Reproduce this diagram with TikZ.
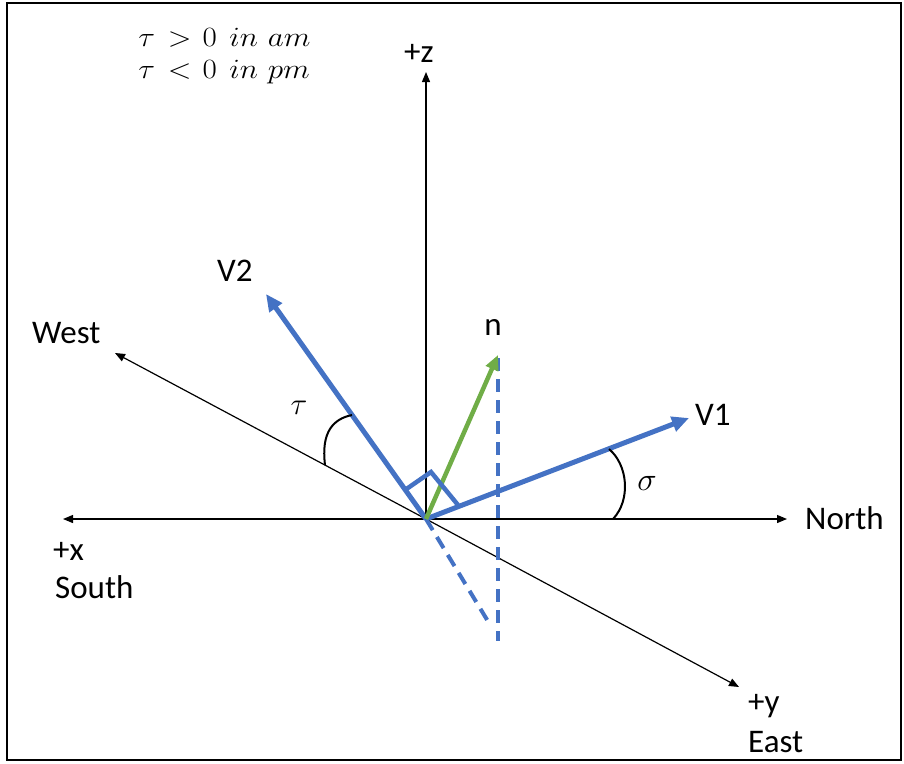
\documentclass[tikz,border=0pt]{standalone}
\usepackage[no-math]{fontspec}
\setmainfont{Carlito}
\usetikzlibrary{arrows.meta}
\definecolor{vblue}{RGB}{68,114,196}
\definecolor{vgreen}{RGB}{112,173,71}
\begin{document}
\begin{tikzpicture}[x=1pt,y=-1pt,
  axis/.style={line width=1.2pt,-{Triangle[length=10pt,width=8pt]}},
  vec/.style={vblue,line width=5pt,-{Triangle[length=17pt,width=15pt]}},
  nvec/.style={vgreen,line width=4.5pt,-{Triangle[length=15pt,width=13pt]}},
  dsh/.style={vblue,line width=4pt,dash pattern=on 13pt off 8pt},
  marker/.style={vblue,line width=4.5pt,line join=miter},
  anglearc/.style={line width=2pt},
  lbl/.style={font=\fontsize{33}{38}\selectfont,inner sep=0pt,anchor=base west},
  mathlbl/.style={font=\Huge,inner sep=0pt,anchor=base west,xscale=1.25,yscale=1.12},
  greek/.style={font=\Huge,inner sep=0pt,scale=1.25}]
\useasboundingbox (0,0) rectangle (904,763);
\draw[line width=2pt] (7,3) rectangle (901,760);
% points
\coordinate (O) at (426,519);
\coordinate (Zt) at (426,72);
\coordinate (Nt) at (787,519);
\coordinate (St) at (63,519);
\coordinate (Wt) at (115,353);
\coordinate (Et) at (739,687);
\coordinate (V2t) at (266,294);
\coordinate (V1t) at (689,418);
\coordinate (nt) at (498,355);
\coordinate (dvTop) at (498,358);
\coordinate (dvBot) at (498,641);
\coordinate (ddEnd) at (489,623);
\coordinate (m1) at (405,490);
\coordinate (m2) at (431,472);
\coordinate (m3) at (458,505);
\coordinate (ta) at (325,465);
\coordinate (tb) at (352,415);
\coordinate (sa) at (613,519);
\coordinate (sb) at (609,449);
% axes
\draw[axis] (O) -- (Zt);
\draw[axis] (O) -- (Nt);
\draw[axis] (O) -- (St);
\draw[axis] (O) -- (Wt);
\draw[axis] (O) -- (Et);
% dashed projections
\draw[dsh] (dvTop) -- (dvBot);
\draw[dsh] (O) -- (ddEnd);
% vectors
\draw[vec] (O) -- (V2t);
\draw[vec] (O) -- (V1t);
\draw[nvec] (O) -- (nt);
\draw[marker] (m1) -- (m2) -- (m3);
% angle arcs
\draw[anglearc] (ta) .. controls (321,432) and (333,419) .. (tb);
\draw[anglearc] (sa) .. controls (631,500) and (628,465) .. (sb);
% labels
\node[lbl] (zl) at (404,62) {+z};
\node[lbl] (v2l) at (217,281) {V2};
\node[lbl] (v1l) at (695,425) {V1};
\node[lbl,anchor=base] (nl) at (493,335) {n};
\node[lbl] (westl) at (32,343) {West};
\node[lbl] (northl) at (805,529) {North};
\node[lbl] (xl) at (53,560) {+x};
\node[lbl] (southl) at (55,598) {South};
\node[lbl] (yl) at (748,712) {+y};
\node[lbl] (eastl) at (748,752) {East};
\node[greek] (taul) at (299,408) {$\tau$};
\node[greek,scale=1.05] (sigl) at (647,483) {$\sigma$};
\node[mathlbl] (cond1) at (138,46) {$\tau\hspace{10.4pt}{>}\hspace{8.8pt}0\hspace{10pt}in\hspace{8pt}am$};
\node[mathlbl] (cond2) at (138,78) {$\tau\hspace{10.4pt}{<}\hspace{8.8pt}0\hspace{10pt}in\hspace{8pt}pm$};
\end{tikzpicture}
\end{document}
